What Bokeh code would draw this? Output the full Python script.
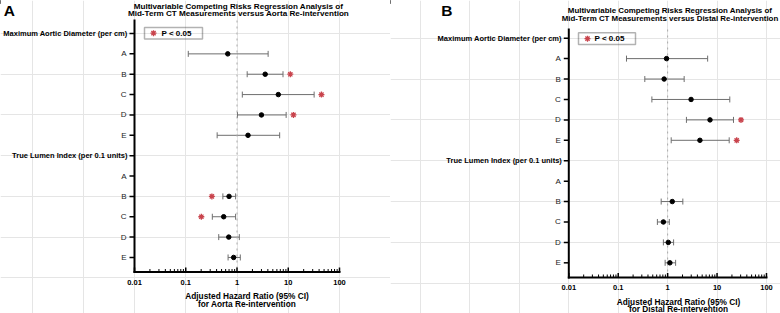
import math
import numpy as np
from bokeh.plotting import figure
from bokeh.models import (ColumnDataSource, Whisker, TeeHead, Label, Range1d,
                          BoxAnnotation)
from bokeh.core.properties import value
from bokeh.layouts import row
from bokeh.embed import file_html
from bokeh.resources import INLINE

# ---------------- data ----------------
row_labels = ["Maximum Aortic Diameter (per cm)", "A", "B", "C", "D", "E",
              "True Lumen Index (per 0.1 units)", "A", "B", "C", "D", "E"]
header_rows = [0, 6]

# Panel A: Aorta re-intervention (hazard ratio, 95% CI)
a_hr = [None, 0.66, 3.55, 6.4, 3.0, 1.64, None, None, 0.70, 0.55, 0.69, 0.86]
a_lo = [None, 0.112, 1.58, 1.27, 1.02, 0.41, None, None, 0.53, 0.33, 0.44, 0.67]
a_hi = [None, 4.05, 7.9, 32.0, 9.1, 6.8, None, None, 0.94, 0.94, 1.11, 1.16]
a_sig = ["", "", "R", "R", "R", "", "", "", "L", "L", "", ""]

# Panel B: Distal re-intervention (hazard ratio, 95% CI)
b_hr = [None, 0.95, 0.85, 2.98, 7.2, 4.5, None, None, 1.24, 0.82, 1.03, 1.11]
b_lo = [None, 0.147, 0.345, 0.48, 2.4, 1.18, None, None, 0.74, 0.62, 0.82, 0.89]
b_hi = [None, 6.45, 2.16, 18.1, 21.5, 17.6, None, None, 2.03, 1.08, 1.32, 1.45]
b_sig = ["", "", "", "", "R", "R", "", "", "", "", "", ""]

x_ticks = [0.01, 0.1, 1, 10, 100]
x_tick_labels = ["0.01", "0.1", "1", "10", "100"]
minor_ticks = [m * 10.0 ** e for e in range(-2, 2) for m in range(2, 10)]
ref_value = 1

title_a = ["Multivariable Competing Risks Regression Analysis of",
           "Mid-Term CT Measurements versus Aorta Re-intervention"]
title_b = ["Multivariable Competing Risks Regression Analysis of",
           "Mid-Term CT Measurements versus Distal Re-intervention"]
xlabel_a = ["Adjusted Hazard Ratio (95% CI)", "for Aorta Re-intervention"]
xlabel_b = ["Adjusted Hazard Ratio (95% CI)", "for Distal Re-intervention"]
legend_text = "P < 0.05"

# ---------------- style / layout ----------------
FONT = "Liberation Sans"
STAR = "#c9444d"
WHISK = "#6e6e6e"
W, H = 390, 313

GEO_A = dict(x0=134.0, ppd=51.25, r0=33.0, rs=20.36, top=20.0, bot=271.5,
             title_x=238.0, title_y=(5.5, 13.2), title_size="8.1px",
             xlab_x=246.5, xlab_y=(295.7, 303.3), tick_y=282.0,
             letter=(3.3, 10.3), box=(144, 202, 27, 38.5),
             lstar=(153, 32.7), ltext=161, star_r=7.3, star_l=11.0)
GEO_B = dict(x0=178.3, ppd=49.42, r0=37.7, rs=20.42, top=29.0, bot=277.0,
             title_x=279.5, title_y=(9.5, 17.5), title_size="7.9px",
             xlab_x=288.0, xlab_y=(301.0, 308.3), tick_y=287.0,
             letter=(50.7, 9.6), box=(188, 245, 32.3, 44.0),
             lstar=(197, 38.2), ltext=204, star_r=7.5, star_l=11.0)


def arr(v):
    return np.array([np.nan if x is None else x for x in v], dtype=float)


def make_panel(title_lines, xlabel_lines, hr, lo, hi, sig, letter, g):
    ppd, rs, r0 = g["ppd"], g["rs"], g["r0"]
    lt0 = math.log10(x_ticks[0])

    def xpx(px):   # canvas pixel -> data x
        return 10 ** (lt0 + (px - g["x0"]) / ppd)

    def ypx(py):   # canvas pixel -> row units
        return (py - r0) / rs

    p = figure(width=W, height=H, x_axis_type="log",
               x_axis_location=None, y_axis_location=None,
               x_range=Range1d(xpx(0), xpx(W)),
               y_range=Range1d(ypx(H), ypx(0)),
               output_backend="svg", toolbar_location=None, min_border=0)
    p.outline_line_color = None
    p.background_fill_color = "white"
    p.border_fill_color = "white"

    ax_top, ax_bot = ypx(g["top"]), ypx(g["bot"])
    xa0, xa1 = x_ticks[0], x_ticks[-1]
    rows = list(range(len(row_labels)))
    n = len(rows)

    # reference line at HR = 1
    p.segment(x0=[ref_value], y0=[ax_top], x1=[ref_value], y1=[ax_bot],
              line_color="#aaaaaa", line_dash="dotted", line_width=1)

    # axis rules
    p.segment(x0=[xa0, xa0], y0=[ax_top, ax_bot], x1=[xa0, xa1],
              y1=[ax_bot, ax_bot], line_color="black", line_width=2,
              line_cap="square")
    # y ticks (outward)
    p.segment(x0=[xa0 * 10 ** (-5.0 / ppd)] * n, y0=rows, x1=[xa0] * n,
              y1=rows, line_color="black", line_width=1.5)
    # x ticks (inward)
    p.segment(x0=x_ticks, y0=[ax_bot] * len(x_ticks), x1=x_ticks,
              y1=[ax_bot - 4.5 / rs] * len(x_ticks), line_color="black",
              line_width=1.5)
    p.segment(x0=minor_ticks, y0=[ax_bot] * len(minor_ticks), x1=minor_ticks,
              y1=[ax_bot - 3.0 / rs] * len(minor_ticks), line_color="black",
              line_width=1)
    # x tick labels
    p.text(x=x_ticks, y=[ypx(g["tick_y"])] * len(x_ticks), text=x_tick_labels,
           text_align="center", text_baseline="middle",
           text_font=value(FONT), text_font_size="7.5px",
           text_font_style="bold", text_color="black")
    # y tick labels
    norm = [i for i in rows if i not in header_rows]
    p.text(x=[xa0] * len(norm), y=norm, text=[row_labels[i] for i in norm],
           x_offset=-8, text_align="right", text_baseline="middle",
           text_font=value(FONT), text_font_size="8px",
           text_color="#222222")
    p.text(x=[xa0] * len(header_rows), y=header_rows,
           text=[row_labels[i] for i in header_rows],
           x_offset=-7, text_align="right", text_baseline="middle",
           text_font=value(FONT), text_font_size="7.5px",
           text_font_style="bold", text_color="black")

    # error bars and points
    ys = np.array(rows, dtype=float)
    src = ColumnDataSource(dict(y=ys, hr=arr(hr), lo=arr(lo), hi=arr(hi)))
    p.add_layout(Whisker(source=src, base="y", lower="lo", upper="hi",
                         dimension="width", line_color=WHISK, line_width=1,
                         lower_head=TeeHead(size=6, line_color=WHISK,
                                            line_width=1),
                         upper_head=TeeHead(size=6, line_color=WHISK,
                                            line_width=1)))
    p.scatter("hr", "y", source=src, size=4.5, color="black")

    # significance stars (plus the legend's star)
    sx, sy = [], []
    for i, s in enumerate(sig):
        if s == "R":
            sx.append(hi[i] * 10 ** (g["star_r"] / ppd)); sy.append(i)
        elif s == "L":
            sx.append(lo[i] / 10 ** (g["star_l"] / ppd)); sy.append(i)
    sx.append(xpx(g["lstar"][0])); sy.append(ypx(g["lstar"][1]))
    p.scatter(sx, sy, marker="asterisk", size=6, line_color=STAR,
              line_width=1.3)

    # legend box
    l, r, t, b = g["box"]
    p.add_layout(BoxAnnotation(left=l, right=r, top=H - t, bottom=H - b,
                               left_units="screen", right_units="screen",
                               top_units="screen", bottom_units="screen",
                               fill_color=None, fill_alpha=0,
                               line_color="black", line_width=1.5))
    p.add_layout(Label(x=g["ltext"], y=H - g["lstar"][1], x_units="screen",
                       y_units="screen", text=legend_text,
                       text_baseline="middle", text_font=FONT,
                       text_font_size="8px", text_font_style="bold",
                       text_color="black"))

    # title
    for line, yy in zip(title_lines, g["title_y"]):
        p.add_layout(Label(x=g["title_x"], y=H - yy, x_units="screen",
                           y_units="screen", text=line, text_align="center",
                           text_baseline="middle", text_font=FONT,
                           text_font_size=g["title_size"],
                           text_font_style="bold", text_color="black"))
    # x axis label
    for line, yy in zip(xlabel_lines, g["xlab_y"]):
        p.add_layout(Label(x=g["xlab_x"], y=H - yy, x_units="screen",
                           y_units="screen", text=line, text_align="center",
                           text_baseline="middle", text_font=FONT,
                           text_font_size="8.3px", text_font_style="bold",
                           text_color="black"))
    # panel letter
    p.add_layout(Label(x=g["letter"][0], y=H - g["letter"][1],
                       x_units="screen", y_units="screen", text=letter,
                       text_baseline="middle", text_font=FONT,
                       text_font_size="15.5px", text_font_style="bold",
                       text_color="black"))
    return p


pa = make_panel(title_a, xlabel_a, a_hr, a_lo, a_hi, a_sig, "A", GEO_A)
pb = make_panel(title_b, xlabel_b, b_hr, b_lo, b_hi, b_sig, "B", GEO_B)

layout = row(pa, pb)
open("out.html", "w").write(file_html(layout, INLINE))
